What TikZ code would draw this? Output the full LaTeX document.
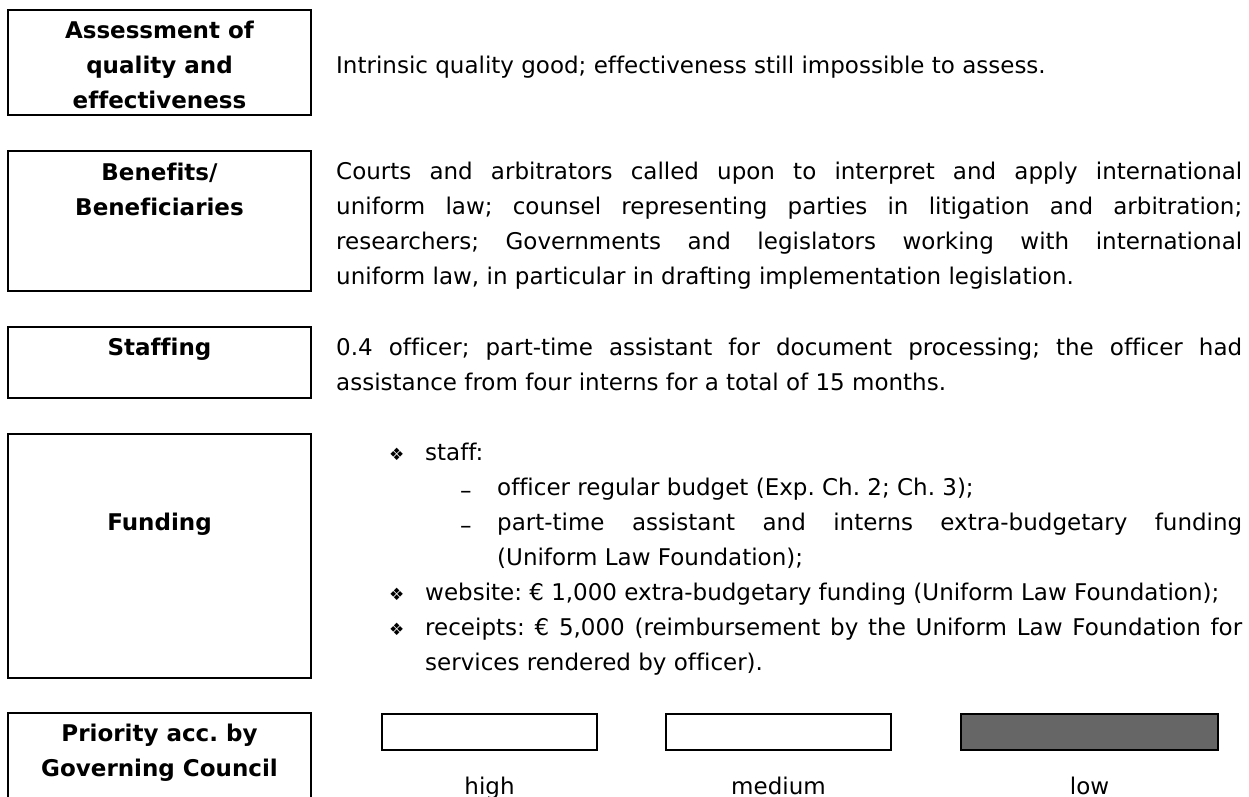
\documentclass[tikz,border=0pt]{standalone}
\usepackage{fontspec}
\setmainfont{DejaVu Sans}[Ligatures={NoCommon}]
\frenchspacing
\tikzset{
  cell/.style={draw=black, line width=1.6pt, inner sep=0pt, fill=none},
  prio/.style={draw=black, line width=1.4pt, inner sep=0pt},
  lbl/.style={inner sep=0pt, anchor=base, font=\fontsize{23}{35}\selectfont\bfseries},
  body/.style={inner sep=0pt, anchor=base west, font=\fontsize{23}{35}\selectfont},
  bul/.style={inner sep=0pt, anchor=base west, font=\fontsize{17}{17}\selectfont},
  dsh/.style={inner sep=0pt, anchor=base west, font=\fontsize{23}{35}\selectfont},
}
\newcommand{\jline}[2]{\makebox[#1][s]{#2}}
\begin{document}
\begin{tikzpicture}[x=1pt,y=-1pt]
\useasboundingbox (0,0) rectangle (1249,796);
\clip (0,0) rectangle (1249,796);
% left boxes
\node[cell, minimum width=303pt, minimum height=105pt] (assessbox) at (159.5,62.5) {};
\node[cell, minimum width=303pt, minimum height=140pt] (benefbox) at (159.5,221) {};
\node[cell, minimum width=303pt, minimum height=71pt] (staffbox) at (159.5,362.5) {};
\node[cell, minimum width=303pt, minimum height=244pt] (fundbox) at (159.5,556) {};
\node[cell, minimum width=303pt, minimum height=117pt] (priobox) at (159.5,771.5) {};
% labels
\node[lbl] (assessA) at (159.5,38) {Assessment of};
\node[lbl] (assessB) at (159.5,73) {quality and};
\node[lbl] (assessC) at (159.5,108) {effectiveness};
\node[lbl] (benefA) at (159.5,180) {Benefits/};
\node[lbl] (benefB) at (159.5,215) {Beneficiaries};
\node[lbl] (staffL) at (159.5,355) {Staffing};
\node[lbl] (fundL) at (159.5,530) {Funding};
\node[lbl] (prioA) at (159.5,741) {Priority acc. by};
\node[lbl] (prioB) at (159.5,776) {Governing Council};
% assessment text
\node[body] (intr) at (336,73) {Intrinsic quality good; effectiveness still impossible to assess.};
% benefits text
\node[body] (ben1) at (336,179) {\jline{906pt}{Courts and arbitrators called upon to interpret and apply international}};
\node[body] (ben2) at (336,214) {\jline{906pt}{uniform law; counsel representing parties in litigation and arbitration;}};
\node[body] (ben3) at (336,249) {\jline{906pt}{researchers; Governments and legislators working with international}};
\node[body] (ben4) at (336,284) {uniform law, in particular in drafting implementation legislation.};
% staffing text
\node[body] (sta1) at (336,355) {\jline{906pt}{0.4 officer; part-time assistant for document processing; the officer had}};
\node[body] (sta2) at (336,390) {assistance from four interns for a total of 15 months.};
% funding text
\node[bul] (bu1) at (389,460) {❖};
\node[body] (fu1) at (425,460) {staff:};
\node[dsh] (da1) at (460,498) {–};
\node[body] (fu2) at (497,495) {officer regular budget (Exp. Ch. 2; Ch. 3);};
\node[dsh] (da2) at (460,533) {–};
\node[body] (fu3) at (497,530) {\jline{745pt}{part-time assistant and interns extra-budgetary funding}};
\node[body] (fu4) at (497,565) {(Uniform Law Foundation);};
\node[bul] (bu2) at (389,600) {❖};
\node[body] (fu5) at (425,600) {website: € 1,000 extra-budgetary funding (Uniform Law Foundation);};
\node[bul] (bu3) at (389,635) {❖};
\node[body] (fu6) at (425,635) {\jline{817pt}{receipts: € 5,000 (reimbursement by the Uniform Law Foundation for}};
\node[body] (fu7) at (425,670) {services rendered by officer).};
% priority scale
\node[prio, minimum width=215pt, minimum height=36pt] (high) at (489.5,732) {};
\node[prio, minimum width=225pt, minimum height=36pt] (medium) at (778.5,732) {};
\node[prio, fill=black!60, minimum width=257pt, minimum height=36pt] (low) at (1089.5,732) {};
\node[body, anchor=base] (highL) at (489.5,794) {high};
\node[body, anchor=base] (mediumL) at (778.5,794) {medium};
\node[body, anchor=base] (lowL) at (1089.5,794) {low};
\end{tikzpicture}
\end{document}
